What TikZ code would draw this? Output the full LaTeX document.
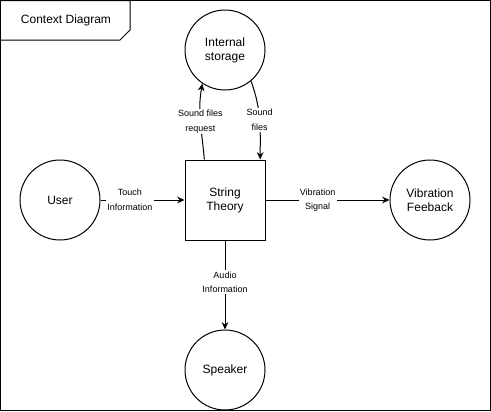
\documentclass[tikz,border=0pt]{standalone}
\usepackage{fontspec}
\setmainfont{Liberation Sans}
\usetikzlibrary{arrows.meta}

\begin{document}
\begin{tikzpicture}[x=0.75pt, y=0.75pt,
  every node/.style={font=\fontsize{9}{10.5}\selectfont, align=center},
  every path/.style={line width=0.75pt},
  proc/.style={circle, draw, minimum size=60pt, inner sep=0pt},
  sysbox/.style={rectangle, draw, minimum size=60pt, inner sep=0pt},
  flowlbl/.style={fill=white, inner sep=1pt, font=\fontsize{6.75}{11}\selectfont},
]
\tikzset{>={Stealth[length=5.5pt, width=5pt]}}

% Frame and title
\useasboundingbox (0,0) rectangle (491,-411);
\draw (0.5,-0.5) rectangle (490.5,-410.5);
\draw (0.5,-0.5) -- (130,-0.5) -- (130,-30) -- (120,-40) -- (0.5,-40);
\node (title) at (66,-20) {Context Diagram};

% Nodes
\node[proc]   (storage) at (225,-50)  {Internal\\storage};
\node[proc]   (user)    at (60,-200)  {User};
\node[sysbox] (strth)   at (225,-200) {String\\Theory};
\node[proc]   (vib)     at (430,-200) {Vibration\\Feeback};
\node[proc]   (speaker) at (225,-370) {Speaker};

% Data flows
\draw[->] (user)  -- node[flowlbl, pos=0.35] {Touch\\Information} (strth);
\draw[->] (strth) -- node[flowlbl, pos=0.42] {Vibration\\Signal} (vib);
\draw[->] (strth) -- node[flowlbl, pos=0.47] {Audio\\Information} (speaker);

% Storage flows
\draw[->] (strth.117) to[out=95, in=-100] node[flowlbl] {Sound files\\request} (storage.236);
\draw[->] (storage.310) to[out=-70, in=90] node[flowlbl] {Sound\\files} (strth.49);

\end{tikzpicture}
\end{document}
